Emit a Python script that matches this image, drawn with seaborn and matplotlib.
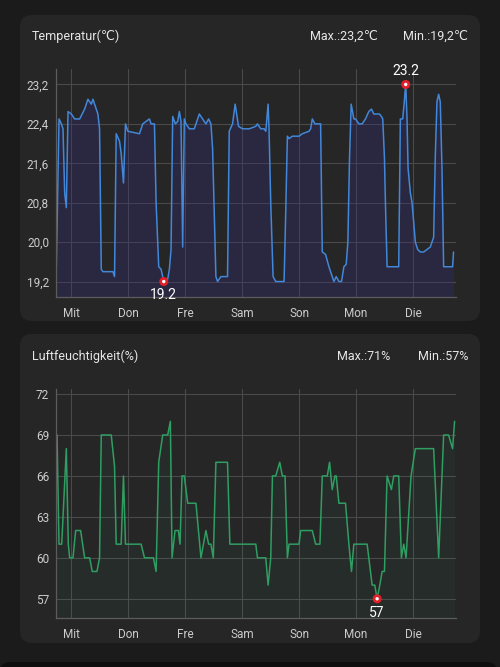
import matplotlib
matplotlib.use('Agg')
import matplotlib.pyplot as plt
from matplotlib.patches import FancyBboxPatch
from matplotlib.ticker import FixedLocator, FixedFormatter
import seaborn as sns

# --------------data (days since Mittwoch 00:00)--------------
day_labels = ['Mit', 'Don', 'Fre', 'Sam', 'Son', 'Mon', 'Die']
day_ticks = [0, 1, 2, 3, 4, 5, 6]

temp_day = [
    -0.257, -0.210, -0.169, -0.140, -0.111, -0.082, -0.052, 0.006, 0.064, 0.152,
    0.239, 0.297, 0.356, 0.385, 0.443, 0.472, 0.501, 0.531, 0.560, 0.735,
    0.764, 0.793, 0.851, 0.880, 0.921, 0.956, 0.997, 1.201, 1.259, 1.318,
    1.376, 1.405, 1.464, 1.493, 1.539, 1.580, 1.627, 1.697, 1.726, 1.755,
    1.784, 1.831, 1.872, 1.901, 1.930, 1.959, 1.988, 2.017, 2.076, 2.163,
    2.251, 2.309, 2.367, 2.414, 2.455, 2.484, 2.513, 2.542, 2.571, 2.630,
    2.746, 2.776, 2.834, 2.880, 2.939, 3.009, 3.125, 3.242, 3.271, 3.329,
    3.388, 3.417, 3.458, 3.475, 3.504, 3.545, 3.592, 3.738, 3.767, 3.796,
    3.825, 3.883, 3.942, 4.000, 4.058, 4.175, 4.204, 4.233, 4.280, 4.350,
    4.379, 4.408, 4.466, 4.525, 4.583, 4.612, 4.653, 4.700, 4.746, 4.787,
    4.828, 4.857, 4.886, 4.915, 4.962, 4.991, 5.050, 5.108, 5.166, 5.224,
    5.271, 5.312, 5.370, 5.411, 5.446, 5.469, 5.499, 5.516, 5.545, 5.749,
    5.778, 5.819, 5.843, 5.872, 5.895, 5.913, 5.953, 5.983, 6.012, 6.041,
    6.082, 6.128, 6.187, 6.245, 6.303, 6.362, 6.391, 6.420, 6.449, 6.478,
    6.508, 6.537, 6.694, 6.711]
temp_val = [
    19.5, 22.5, 22.4, 22.3, 21.0, 20.7, 22.65, 22.6, 22.5, 22.5,
    22.7, 22.9, 22.8, 22.9, 22.7, 22.6, 22.3, 19.45, 19.4, 19.4,
    19.3, 22.2, 22.05, 21.8, 21.2, 22.4, 22.25, 22.2, 22.4, 22.45,
    22.5, 22.4, 22.4, 20.8, 19.5, 19.45, 19.2, 19.25, 19.45, 19.85,
    22.55, 22.4, 22.45, 22.65, 22.45, 19.9, 22.5, 22.4, 22.3, 22.3,
    22.6, 22.5, 22.4, 22.5, 22.4, 21.9, 20.6, 19.3, 19.2, 19.3,
    19.3, 22.25, 22.4, 22.8, 22.35, 22.3, 22.3, 22.35, 22.4, 22.3,
    22.3, 22.25, 22.8, 22.25, 20.8, 19.3, 19.2, 19.2, 20.6, 22.15,
    22.1, 22.15, 22.15, 22.15, 22.2, 22.25, 22.3, 22.5, 22.4, 22.4,
    22.4, 19.8, 19.75, 19.5, 19.3, 19.2, 19.3, 19.2, 19.2, 19.5,
    19.55, 20.0, 21.7, 22.8, 22.5, 22.5, 22.4, 22.4, 22.5, 22.65,
    22.7, 22.6, 22.6, 22.6, 22.55, 22.5, 21.7, 20.8, 19.5, 19.5,
    22.5, 22.5, 22.8, 23.2, 22.5, 21.5, 21.0, 20.8, 20.4, 20.0,
    19.85, 19.8, 19.8, 19.85, 19.9, 20.1, 21.75, 22.85, 23.0, 22.85,
    21.5, 19.5, 19.5, 19.8]

hum_day = [
    -0.268, -0.245, -0.210, -0.163, -0.082, -0.047, -0.023, 0.035, 0.082, 0.169,
    0.239, 0.327, 0.373, 0.455, 0.501, 0.531, 0.706, 0.764, 0.793, 0.880,
    0.921, 0.956, 1.230, 1.289, 1.446, 1.493, 1.539, 1.609, 1.697, 1.743,
    1.773, 1.825, 1.884, 1.913, 1.948, 1.988, 2.047, 2.192, 2.280, 2.367,
    2.414, 2.455, 2.496, 2.542, 2.746, 2.787, 3.125, 3.242, 3.271, 3.417,
    3.458, 3.504, 3.534, 3.592, 3.662, 3.708, 3.755, 3.796, 3.825, 4.000,
    4.029, 4.233, 4.292, 4.367, 4.408, 4.496, 4.536, 4.583, 4.630, 4.653,
    4.700, 4.816, 4.875, 4.921, 4.962, 5.195, 5.283, 5.329, 5.370, 5.417,
    5.458, 5.499, 5.545, 5.621, 5.662, 5.749, 5.796, 5.837, 5.878, 5.965,
    6.041, 6.362, 6.450, 6.537, 6.624, 6.694, 6.729]
hum_val = [
    69, 69, 61, 61, 68, 61, 60, 60, 62, 62,
    60, 60, 59, 59, 60, 69, 69, 66.7, 61, 61,
    66, 61, 61, 60, 60, 59, 67, 69, 69, 70,
    60, 62, 62, 61, 66, 66, 64, 64, 60, 62,
    61, 61, 60, 67, 67, 61, 61, 61, 60, 60,
    58, 60, 66, 66, 67, 66, 66, 60, 61, 61,
    62, 62, 61, 61, 66, 66, 67, 65, 66, 66,
    64, 64, 61, 59, 61, 61, 58, 58, 57, 58,
    59, 59, 66, 65, 66, 66, 60, 61, 60, 66,
    68, 68, 60, 69, 69, 68, 70]

temp_ticks = [19.2, 20.0, 20.8, 21.6, 22.4, 23.2]
temp_tick_labels = ['19,2', '20,0', '20,8', '21,6', '22,4', '23,2']
hum_ticks = [57, 60, 63, 66, 69, 72]
hum_tick_labels = ['57', '60', '63', '66', '69', '72']

temp_max = (5.872, 23.2)
temp_min = (1.627, 19.2)
hum_min = (5.370, 57)

# --------------style--------------
sns.set_theme(style='dark')
plt.rcParams['font.family'] = ['Roboto', 'DejaVu Sans']

BG = '#1b1b1b'
CARD = '#262626'
GRID = '#4a4a4a'
SPINE = '#5c5c5c'
TXT = '#e6e6e6'
TICK = '#cccccc'

fig = plt.figure(figsize=(5, 6.67), dpi=100, facecolor=BG)

# cards (inches), drawn below the axes
for x0, y0, w, h in [(0.2, 3.46, 4.6, 3.06), (0.2, 0.24, 4.6, 3.09)]:
    fig.patches.append(FancyBboxPatch((x0, y0), w, h,
                                      boxstyle='round,pad=0,rounding_size=0.12',
                                      transform=fig.dpi_scale_trans,
                                      facecolor=CARD, edgecolor='none', zorder=-5))
fig.patches.append(FancyBboxPatch((0.0, -0.2), 4.97, 0.25,
                                  boxstyle='round,pad=0,rounding_size=0.1',
                                  transform=fig.dpi_scale_trans,
                                  facecolor='#0e0e0e', edgecolor='none', zorder=-5))


def px(x, y):
    return x / 500, 1 - y / 667


def style_axes(ax, ticks, labels, ylim):
    ax.set_facecolor('none')
    ax.set_zorder(2)
    ax.set_xlim(-0.263, 6.754)
    ax.set_ylim(*ylim)
    ax.yaxis.set_major_locator(FixedLocator(ticks))
    ax.yaxis.set_major_formatter(FixedFormatter(labels))
    ax.xaxis.set_major_locator(FixedLocator(day_ticks))
    ax.xaxis.set_major_formatter(FixedFormatter(day_labels))
    ax.grid(True, color=GRID, linewidth=0.8)
    ax.set_axisbelow(True)
    ax.tick_params(axis='both', length=0, colors=TICK, labelsize=8.5)
    ax.tick_params(axis='y', pad=5)
    ax.tick_params(axis='x', pad=7)
    for side in ['top', 'right']:
        ax.spines[side].set_visible(False)
    for side in ['left', 'bottom']:
        ax.spines[side].set_visible(True)
        ax.spines[side].set_color(SPINE)
        ax.spines[side].set_linewidth(0.9)
    ax.set_xlabel('')
    ax.set_ylabel('')


def mark(ax, pt, label, above):
    sns.scatterplot(x=[pt[0]], y=[pt[1]], ax=ax, color='#e3202a', s=42,
                    edgecolor='none', zorder=5, clip_on=False)
    sns.scatterplot(x=[pt[0]], y=[pt[1]], ax=ax, color='white', s=6,
                    edgecolor='none', zorder=6, clip_on=False)
    ax.annotate(label, pt, xytext=(0, 10 if above else -10),
                textcoords='offset points', ha='center',
                va='center', color='white', fontsize=10)


# --------------Temperatur--------------
ax1 = fig.add_axes([0.112, 1 - 297 / 667, 0.8, 228 / 667])
temp_ylim = (18.886, 23.514)
ax1.fill_between(temp_day, temp_val, temp_ylim[0], color='#352a80',
                 alpha=0.3, linewidth=0)
sns.lineplot(x=temp_day, y=temp_val, ax=ax1, color='#4287d8',
             linewidth=1.1, estimator=None)
style_axes(ax1, temp_ticks, temp_tick_labels, temp_ylim)
mark(ax1, temp_max, '23.2', True)
mark(ax1, temp_min, '19.2', False)

# --------------Luftfeuchtigkeit--------------
ax2 = fig.add_axes([0.112, 1 - 618 / 667, 0.8, 229 / 667])
hum_ylim = (55.59, 72.37)
ax2.fill_between(hum_day, hum_val, hum_ylim[0], color='#2e9e62',
                 alpha=0.05, linewidth=0)
sns.lineplot(x=hum_day, y=hum_val, ax=ax2, color='#2f9e62',
             linewidth=1.1, estimator=None)
style_axes(ax2, hum_ticks, hum_tick_labels, hum_ylim)
mark(ax2, hum_min, '57', False)

# --------------card headers--------------
fig.text(*px(32, 36), 'Temperatur(℃)', color=TXT, fontsize=9, va='center')
fig.text(*px(378, 36), 'Max.:23,2℃', color=TXT, fontsize=9, va='center', ha='right')
fig.text(*px(468, 36), 'Min.:19,2℃', color=TXT, fontsize=9, va='center', ha='right')
fig.text(*px(32, 356), 'Luftfeuchtigkeit(%)', color=TXT, fontsize=9, va='center')
fig.text(*px(390, 356), 'Max.:71%', color=TXT, fontsize=9, va='center', ha='right')
fig.text(*px(468, 356), 'Min.:57%', color=TXT, fontsize=9, va='center', ha='right')

fig.savefig('out.png', dpi=100, facecolor=fig.get_facecolor())
